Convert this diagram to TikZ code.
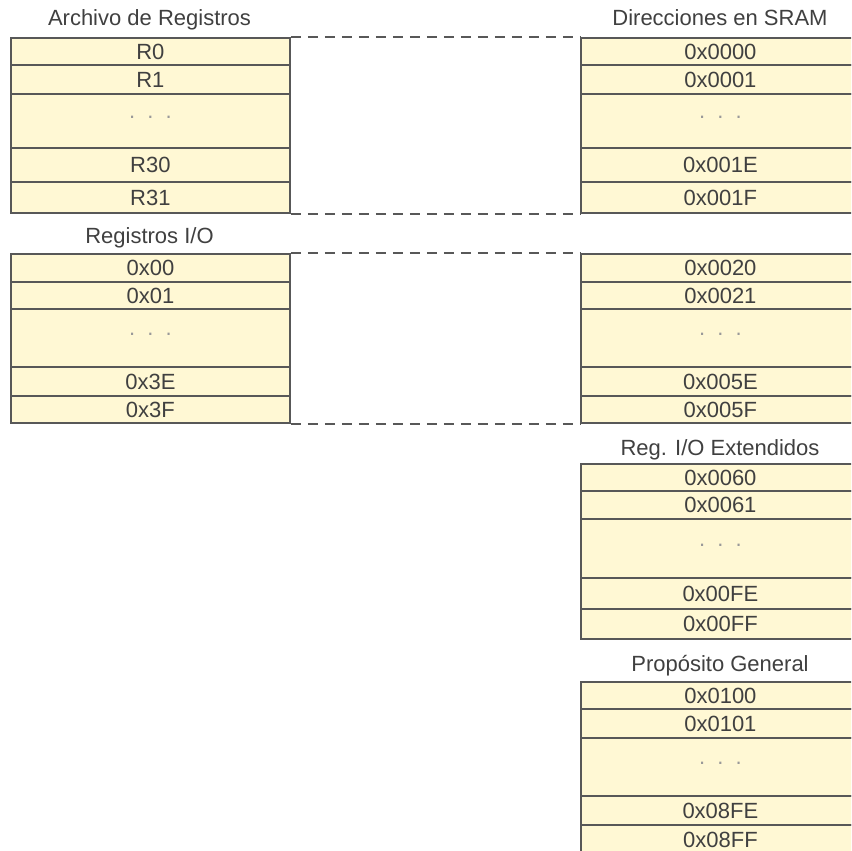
\documentclass[tikz,border=0pt]{standalone}
\usepackage{fontspec}
\setmainfont{Liberation Sans}
\definecolor{cellfill}{HTML}{FFF8D4}
\definecolor{edge}{HTML}{585858}
\definecolor{ink}{HTML}{404040}
\definecolor{dotgray}{HTML}{999999}
\tikzset{
  cell/.style={draw=edge, fill=cellfill, line width=1.8pt, minimum width=279pt,
    inner sep=0pt, anchor=north west, text=ink,
    font=\fontsize{22}{22}\selectfont, text height=16pt, text depth=0pt},
  title/.style={text=ink, font=\fontsize{22}{22}\selectfont, inner sep=0pt,
    text height=16pt, text depth=0pt},
  link/.style={draw=edge, line width=1.8pt, dash pattern=on 10pt off 7pt},
}
\newcommand{\dotsrow}{\textcolor{dotgray}{\raisebox{10pt}{.\ \ .\ \ .}}}
\begin{document}
\begin{tikzpicture}[x=1pt,y=-1pt]
\clip (0,0) rectangle (851,851);
\fill[white] (0,0) rectangle (851,851);

% register file
\node[title] (tA) at (149.5,18) {Archivo de Registros};
\node[cell, minimum height=27pt] (a0)  at (10,37)  {R0};
\node[cell, minimum height=29pt] (a1)  at (10,64)  {R1};
\node[cell, minimum height=54pt] (ad)  at (10,93)  {\dotsrow};
\node[cell, minimum height=34pt] (a30) at (10,147) {R30};
\node[cell, minimum height=31pt] (a31) at (10,181) {R31};

% SRAM addresses of the register file
\node[title] (tS) at (720,18) {Direcciones en SRAM};
\node[cell, minimum height=27pt] (s0)  at (580,37)  {0x0000};
\node[cell, minimum height=29pt] (s1)  at (580,64)  {0x0001};
\node[cell, minimum height=54pt] (sd)  at (580,93)  {\dotsrow};
\node[cell, minimum height=34pt] (s30) at (580,147) {0x001E};
\node[cell, minimum height=31pt] (s31) at (580,181) {0x001F};

% I/O registers
\node[title] (tB) at (149.5,235) {Registros I/O};
\node[cell, minimum height=28pt] (b0)  at (10,253) {0x00};
\node[cell, minimum height=27pt] (b1)  at (10,281) {0x01};
\node[cell, minimum height=58pt] (bd)  at (10,308) {\dotsrow};
\node[cell, minimum height=29pt] (b62) at (10,366) {0x3E};
\node[cell, minimum height=27pt] (b63) at (10,395) {0x3F};

% SRAM addresses of the I/O registers
\node[cell, minimum height=28pt] (t0)  at (580,253) {0x0020};
\node[cell, minimum height=27pt] (t1)  at (580,281) {0x0021};
\node[cell, minimum height=58pt] (td)  at (580,308) {\dotsrow};
\node[cell, minimum height=29pt] (t62) at (580,366) {0x005E};
\node[cell, minimum height=27pt] (t63) at (580,395) {0x005F};

% extended I/O registers
\node[title] (tE) at (720,447) {Reg. I/O Extendidos};
\node[cell, minimum height=27pt] (e0)  at (580,463) {0x0060};
\node[cell, minimum height=28pt] (e1)  at (580,490) {0x0061};
\node[cell, minimum height=59pt] (ed)  at (580,518) {\dotsrow};
\node[cell, minimum height=31pt] (e62) at (580,577) {0x00FE};
\node[cell, minimum height=30pt] (e63) at (580,608) {0x00FF};

% general purpose SRAM
\node[title] (tG) at (720,663) {Propósito General};
\node[cell, minimum height=27pt] (g0)  at (580,681) {0x0100};
\node[cell, minimum height=29pt] (g1)  at (580,708) {0x0101};
\node[cell, minimum height=58pt] (gd)  at (580,737) {\dotsrow};
\node[cell, minimum height=29pt] (g62) at (580,795) {0x08FE};
\node[cell, minimum height=29pt] (g63) at (580,824) {0x08FF};

% mapping between register blocks and addresses
\draw[link] (a0.north east)  -- (s0.north west);
\draw[link] (a31.south east) -- (s31.south west);
\draw[link] (b0.north east)  -- (t0.north west);
\draw[link] (b63.south east) -- (t63.south west);
\end{tikzpicture}
\end{document}
